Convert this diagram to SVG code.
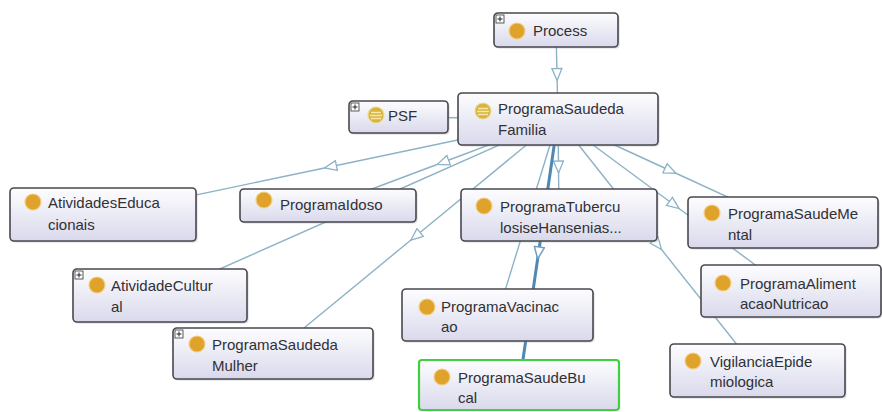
<svg xmlns="http://www.w3.org/2000/svg" width="882" height="412" viewBox="0 0 882 412">
<style>
.box{fill:url(#ng);stroke:#48484e;stroke-width:1.6}
.sh{fill:#9a9aa8;opacity:0.4}
.sel{fill:url(#ng);stroke:#3fcf3f;stroke-width:2.2}
.ic{fill:#dfa22b;stroke:#f1cf85;stroke-width:1.2}
.eq{fill:#d9b43c;stroke:#efd98f;stroke-width:1.2}
.eql{stroke:#f4e7b0;stroke-width:1.3}
.t{font-family:"Liberation Sans",Arial,sans-serif;font-size:15px;fill:#303035}
.e{fill:none;stroke:#8db2c6;stroke-width:1.4;marker-mid:url(#ar)}
.eb{fill:none;stroke:#4e88b4;stroke-width:3;marker-mid:url(#ar2)}
.pb{fill:#fff;stroke:#333;stroke-width:0.8}
.pl{stroke:#222;stroke-width:1}
</style>
<defs>
<linearGradient id="ng" x1="0" y1="0" x2="0" y2="1">
<stop offset="0" stop-color="#fdfdff"/>
<stop offset="1" stop-color="#d9d9ec"/>
</linearGradient>
<marker id="ar" viewBox="0 0 14 12" refX="7" refY="6" markerWidth="14" markerHeight="12" markerUnits="userSpaceOnUse" orient="auto">
<path d="M1,1 L13,6 L1,11 Z" fill="#fff" stroke="#8db2c6" stroke-width="1.3"/>
</marker>
<marker id="ar2" viewBox="0 0 14 12" refX="7" refY="6" markerWidth="14" markerHeight="12" markerUnits="userSpaceOnUse" orient="auto">
<path d="M1,1 L13,6 L1,11 Z" fill="#fff" stroke="#6f9fc2" stroke-width="1.5"/>
</marker>
</defs>
<rect width="882" height="412" fill="#fff"/>
<g id="connectors">
<path class="e" d="M556,30 L557,74.5 L558,119"/>
<path class="e" d="M398,117 L478,118 L558,119"/>
<path class="e" d="M558,119 L330.5,166.75 L103,214.5"/>
<path class="e" d="M558,119 L443,162.25 L328,205.5"/>
<path class="e" d="M558,119 L359,207.25 L160,295.5"/>
<path class="e" d="M558,119 L415.5,236.25 L273,353.5"/>
<path class="e" d="M558,119 L558.5,167 L559,215"/>
<path class="e" d="M558,119 L527.75,217 L497.5,315"/>
<path class="e" d="M558,119 L670.5,170.75 L783,222.5"/>
<path class="e" d="M558,119 L674.25,205 L790.5,291"/>
<path class="e" d="M558,119 L657.75,244.75 L757.5,370.5"/>
<path class="eb" d="M558,119 L538.5,253 L519,387"/>
</g>
<g id="Process">
<rect class="sh" x="495.5" y="14.5" width="124" height="34" rx="4"/>
<rect class="box" x="494" y="13" width="124" height="34" rx="4"/>
<rect class="pb" x="496" y="15" width="8" height="8"/><path class="pl" d="M497.5,19 H502.5 M500,16.5 V21.5"/>
<circle class="ic" cx="517" cy="31" r="8"/>
<text class="t" x="533" y="36">Process</text>
</g>
<g id="PSF">
<rect class="sh" x="350.5" y="102.5" width="99" height="32" rx="4"/>
<rect class="box" x="349" y="101" width="99" height="32" rx="4"/>
<rect class="pb" x="351" y="103" width="8" height="8"/><path class="pl" d="M352.5,107 H357.5 M355,104.5 V109.5"/>
<circle class="eq" cx="376" cy="115" r="8"/>
<path class="eql" d="M371,112.5 H381 M370,115.5 H382 M371,118.5 H381"/>
<text class="t" x="388" y="121">PSF</text>
</g>
<g id="ProgramaSaudedaFamilia">
<rect class="sh" x="459.5" y="94.5" width="200" height="52" rx="4"/>
<rect class="box" x="458" y="93" width="200" height="52" rx="4"/>
<circle class="eq" cx="483" cy="111" r="8"/>
<path class="eql" d="M478,108.5 H488 M477,111.5 H489 M478,114.5 H488"/>
<text class="t" x="498" y="114">ProgramaSaudeda</text>
<text class="t" x="498" y="135">Familia</text>
</g>
<g id="AtividadesEducacionais">
<rect class="sh" x="11.5" y="189.5" width="186" height="53" rx="4"/>
<rect class="box" x="10" y="188" width="186" height="53" rx="4"/>
<circle class="ic" cx="33" cy="202" r="8"/>
<text class="t" x="48" y="208">AtividadesEduca</text>
<text class="t" x="48" y="230">cionais</text>
</g>
<g id="ProgramaIdoso">
<rect class="sh" x="241.5" y="190.5" width="176" height="33" rx="4"/>
<rect class="box" x="240" y="189" width="176" height="33" rx="4"/>
<circle class="ic" cx="264" cy="200" r="8"/>
<text class="t" x="280" y="210">ProgramaIdoso</text>
</g>
<g id="ProgramaTuberculoseHansenias">
<rect class="sh" x="462.5" y="190.5" width="196" height="52" rx="4"/>
<rect class="box" x="461" y="189" width="196" height="52" rx="4"/>
<circle class="ic" cx="484" cy="206" r="8"/>
<text class="t" x="500" y="212">ProgramaTubercu</text>
<text class="t" x="500" y="233">losiseHansenias...</text>
</g>
<g id="ProgramaSaudeMental">
<rect class="sh" x="689.5" y="198.5" width="190" height="51" rx="4"/>
<rect class="box" x="688" y="197" width="190" height="51" rx="4"/>
<circle class="ic" cx="712" cy="213" r="8"/>
<text class="t" x="728" y="219">ProgramaSaudeMe</text>
<text class="t" x="728" y="240">ntal</text>
</g>
<g id="AtividadeCultural">
<rect class="sh" x="74.5" y="270.5" width="174" height="53" rx="4"/>
<rect class="box" x="73" y="269" width="174" height="53" rx="4"/>
<rect class="pb" x="75" y="271" width="8" height="8"/><path class="pl" d="M76.5,275 H81.5 M79,272.5 V277.5"/>
<circle class="ic" cx="97" cy="285" r="8"/>
<text class="t" x="111" y="291">AtividadeCultur</text>
<text class="t" x="111" y="312">al</text>
</g>
<g id="ProgramaAlimentacaoNutricao">
<rect class="sh" x="702.5" y="266.5" width="180" height="52" rx="4"/>
<rect class="box" x="701" y="265" width="180" height="52" rx="4"/>
<circle class="ic" cx="723" cy="283" r="8"/>
<text class="t" x="740" y="289">ProgramaAliment</text>
<text class="t" x="740" y="309">acaoNutricao</text>
</g>
<g id="ProgramaVacinacao">
<rect class="sh" x="403.5" y="290.5" width="191" height="52" rx="4"/>
<rect class="box" x="402" y="289" width="191" height="52" rx="4"/>
<circle class="ic" cx="427" cy="307" r="8"/>
<text class="t" x="441" y="312">ProgramaVacinac</text>
<text class="t" x="441" y="332">ao</text>
</g>
<g id="ProgramaSaudedaMulher">
<rect class="sh" x="174.5" y="329.5" width="200" height="51" rx="4"/>
<rect class="box" x="173" y="328" width="200" height="51" rx="4"/>
<rect class="pb" x="175" y="330" width="8" height="8"/><path class="pl" d="M176.5,334 H181.5 M179,331.5 V336.5"/>
<circle class="ic" cx="197" cy="344" r="8"/>
<text class="t" x="212" y="350">ProgramaSaudeda</text>
<text class="t" x="212" y="371">Mulher</text>
</g>
<g id="VigilanciaEpidemiologica">
<rect class="sh" x="671.5" y="345.5" width="175" height="53" rx="4"/>
<rect class="box" x="670" y="344" width="175" height="53" rx="4"/>
<circle class="ic" cx="693" cy="361" r="8"/>
<text class="t" x="710" y="367">VigilanciaEpide</text>
<text class="t" x="710" y="387">miologica</text>
</g>
<g id="ProgramaSaudeBucal">
<rect class="sel" x="419" y="360" width="200" height="50" rx="3"/>
<circle class="ic" cx="442" cy="377" r="8"/>
<text class="t" x="458" y="383">ProgramaSaudeBu</text>
<text class="t" x="458" y="403">cal</text>
</g>
</svg>
